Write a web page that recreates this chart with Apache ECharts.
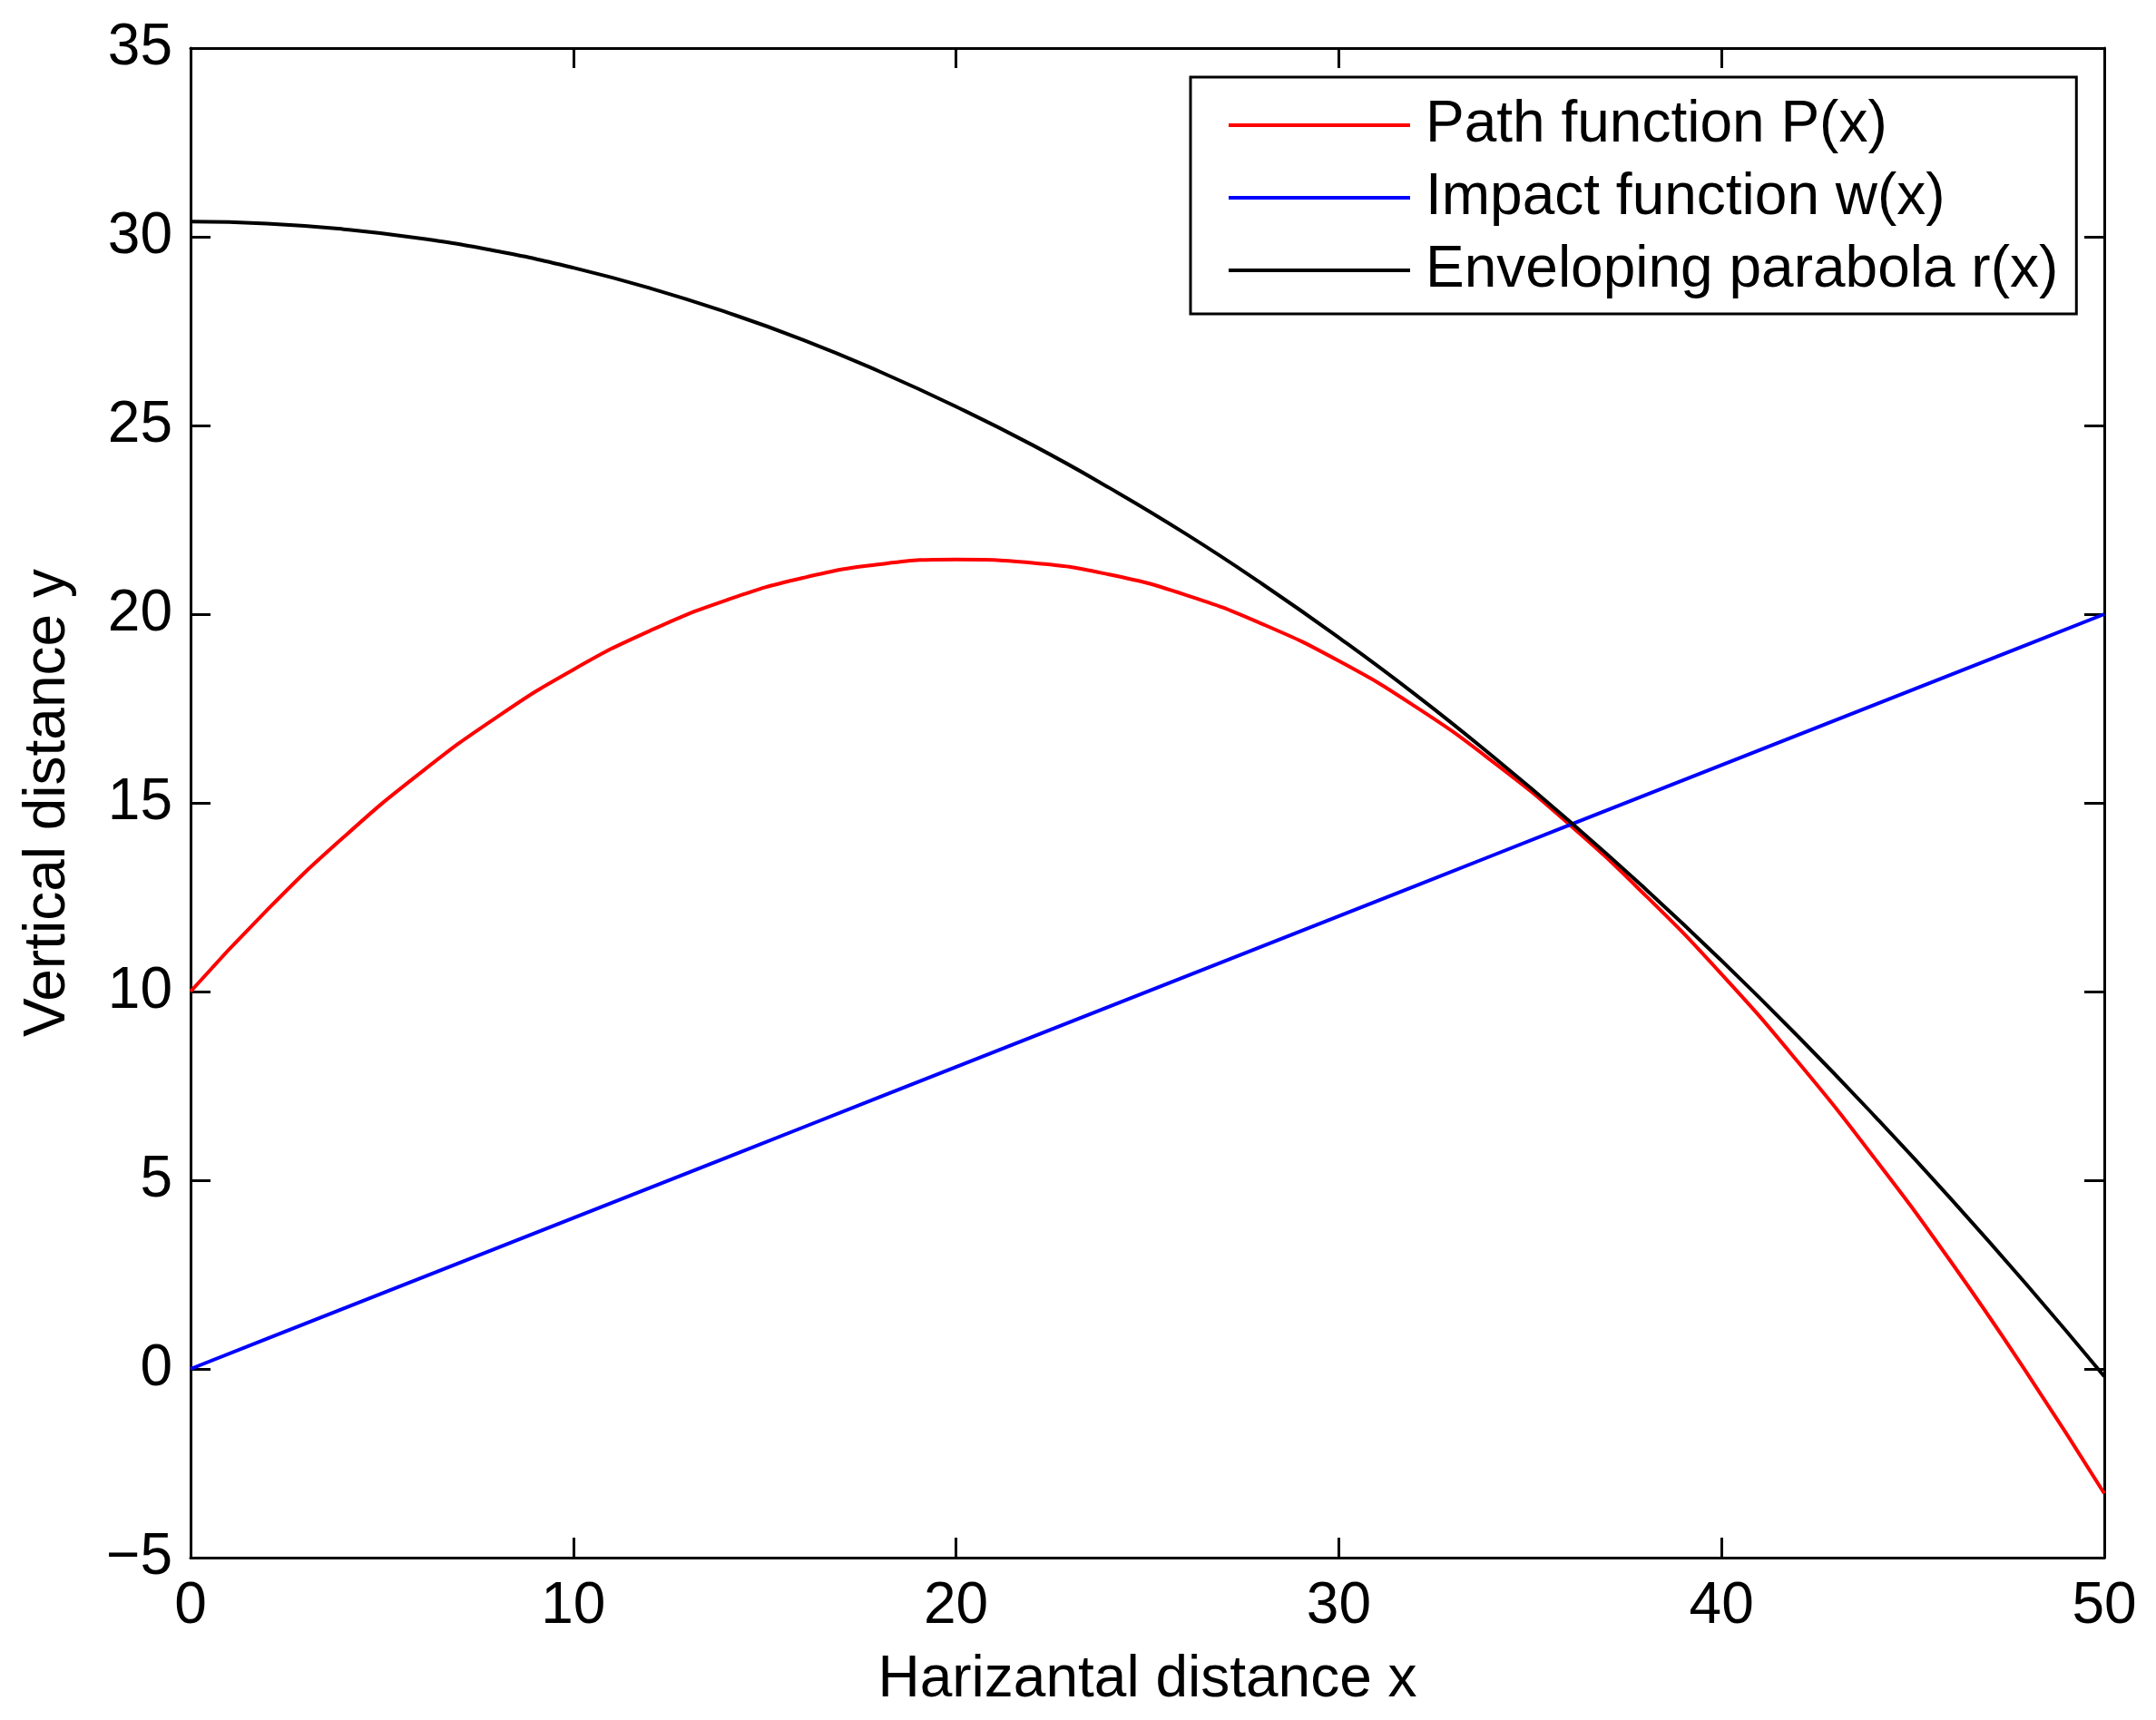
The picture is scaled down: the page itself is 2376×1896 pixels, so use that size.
<!DOCTYPE html>
<html>
<head>
<meta charset="utf-8">
<title>Path, impact and enveloping parabola</title>
<script src="https://cdn.jsdelivr.net/npm/echarts@6/dist/echarts.min.js"></script>
<style>
  html, body { margin: 0; padding: 0; background: #fff; }
  #main { width: 2376px; height: 1896px; }
</style>
</head>
<body>
<div id="main"></div>
<script>
// x samples (step 2)
var xs = [0, 2, 4, 6, 8, 10, 12, 14, 16, 18, 20, 22, 24, 26, 28, 30, 32, 34, 36, 38, 40, 42, 44, 46, 48, 50];
// Path function P(x)
var pathVals = [10, 12.16, 14.09, 15.79, 17.27, 18.53, 19.56, 20.37, 20.96, 21.32, 21.45, 21.36, 21.05, 20.51, 19.74,
  18.76, 17.55, 16.11, 14.45, 12.56, 10.46, 8.13, 5.58, 2.83, -0.14, -3.3];
// Impact function w(x)
var impactVals = [0, 0.8, 1.6, 2.4, 3.2, 4, 4.8, 5.6, 6.4, 7.2, 8, 8.8, 9.6, 10.4, 11.2,
  12, 12.8, 13.6, 14.4, 15.2, 16, 16.8, 17.6, 18.4, 19.2, 20];
// Enveloping parabola r(x)
var envVals = [30.4, 30.35, 30.2, 29.96, 29.62, 29.18, 28.64, 28.0, 27.27, 26.43, 25.5, 24.48, 23.35, 22.13, 20.8,
  19.38, 17.87, 16.25, 14.54, 12.73, 10.82, 8.81, 6.7, 4.5, 2.2, -0.2];

var seriesNames = ['Path function P(x)', 'Impact function w(x)', 'Enveloping parabola r(x)'];

function pairs(vals) {
  return xs.map(function (x, i) { return [x, vals[i]]; });
}

var font = '"Liberation Sans", Arial, sans-serif';
var chart = echarts.init(document.getElementById('main'));

var axisLine = { show: true, onZero: false, lineStyle: { color: '#000', width: 3 } };
var axisTick = { show: true, inside: true, length: 22, lineStyle: { color: '#000', width: 3 } };

var option = {
  backgroundColor: '#fff',
  animation: false,
  grid: { left: 210, top: 53, width: 2109, height: 1664, containLabel: false },
  legend: {
    data: seriesNames,
    orient: 'vertical',
    left: 1312,
    top: 85,
    padding: [21, 20, 16, 40],
    itemWidth: 200,
    itemHeight: 64,
    itemGap: 16,
    borderColor: '#000',
    borderWidth: 3,
    backgroundColor: '#fff',
    itemStyle: { opacity: 0 },
    lineStyle: { width: 4 },
    textStyle: { fontFamily: font, fontSize: 64, color: '#000', padding: [0, 0, 0, 12] }
  },
  xAxis: [{
    type: 'value', min: 0, max: 50, interval: 10, position: 'bottom',
    name: 'Harizantal distance x', nameLocation: 'middle', nameGap: 103,
    nameTextStyle: { fontFamily: font, fontSize: 64, color: '#000' },
    axisLine: axisLine, axisTick: axisTick, splitLine: { show: false },
    axisLabel: { fontFamily: font, fontSize: 64, color: '#000', margin: 22 }
  }, {
    type: 'value', min: 0, max: 50, interval: 10, position: 'top',
    axisLine: axisLine, axisTick: axisTick, splitLine: { show: false },
    axisLabel: { show: false }
  }],
  yAxis: [{
    type: 'value', min: -5, max: 35, interval: 5, position: 'left',
    name: 'Vertical distance y', nameLocation: 'middle', nameGap: 125,
    nameTextStyle: { fontFamily: font, fontSize: 64, color: '#000' },
    axisLine: axisLine, axisTick: axisTick, splitLine: { show: false },
    axisLabel: {
      fontFamily: font, fontSize: 64, color: '#000', margin: 20,
      formatter: function (v) { return v < 0 ? '\u2212' + Math.abs(v) : String(v); }
    }
  }, {
    type: 'value', min: -5, max: 35, interval: 5, position: 'right',
    axisLine: axisLine, axisTick: axisTick, splitLine: { show: false },
    axisLabel: { show: false }
  }],
  series: [{
    name: seriesNames[0], type: 'line', symbol: 'none', smooth: true,
    color: '#ff0000', lineStyle: { color: '#ff0000', width: 4 },
    data: pairs(pathVals)
  }, {
    name: seriesNames[1], type: 'line', symbol: 'none',
    color: '#0000ff', lineStyle: { color: '#0000ff', width: 4 },
    data: pairs(impactVals)
  }, {
    name: seriesNames[2], type: 'line', symbol: 'none', smooth: true,
    color: '#000000', lineStyle: { color: '#000000', width: 4 },
    data: pairs(envVals)
  }]
};

chart.setOption(option);
</script>
</body>
</html>
